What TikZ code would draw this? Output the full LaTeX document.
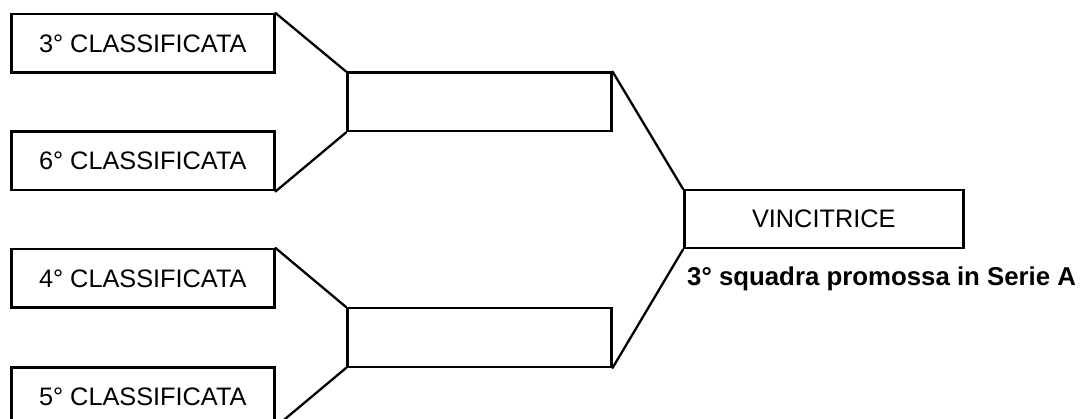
\documentclass[tikz,border=0pt]{standalone}
\usepackage{fontspec}
\setmainfont{Liberation Sans}
\begin{document}
\begin{tikzpicture}[x=1pt,y=-1pt,
  box/.style={draw=black, line width=2.5pt, rectangle, anchor=north west, inner sep=0pt,
    minimum width=263pt, minimum height=58.5pt, font=\fontsize{25.3}{28}\selectfont},
  link/.style={draw=black, line width=2.3pt, line cap=round, line join=round}]
\useasboundingbox (0,0) rectangle (1086,419);
\node[box] (c3) at (10,13) {3° CLASSIFICATA};
\node[box] (c6) at (10,130.5) {6° CLASSIFICATA};
\node[box] (c4) at (10,248) {4° CLASSIFICATA};
\node[box] (c5) at (10,366) {5° CLASSIFICATA};
\node[box, minimum width=264pt] (m1) at (346,71.5) {};
\node[box, minimum width=264pt] (m2) at (346,307) {};
\node[box, minimum width=279pt, minimum height=58pt] (v) at (683,189) {VINCITRICE};
\node[anchor=base west, inner sep=0pt, font=\bfseries\fontsize{25.8}{28}\selectfont] (lab) at (687,286) {3° squadra promossa in Serie A};
\draw[link] (c3.north east) -- (m1.north west);
\draw[link] (c6.south east) -- (m1.south west);
\draw[link] (c4.north east) -- (m2.north west);
\draw[link] (c5.south east) -- (m2.south west);
\draw[link] (m1.north east) -- (v.north west);
\draw[link] (m2.south east) -- (v.south west);
\end{tikzpicture}
\end{document}
